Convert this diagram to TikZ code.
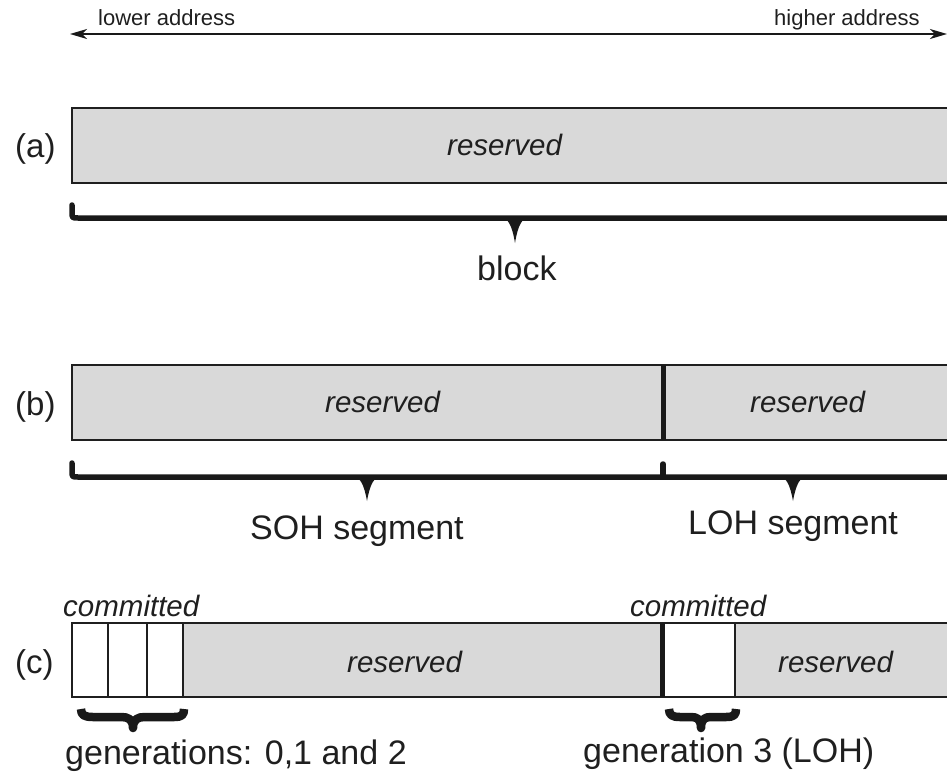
\documentclass[tikz,border=0pt]{standalone}
\usepackage{fontspec}
\setmainfont{Liberation Sans}
\usetikzlibrary{arrows.meta}
\begin{document}
\begin{tikzpicture}[x=1pt,y=-1pt,
  seg/.style={draw=black!88,line width=2.2pt},
  reservedfill/.style={fill=black!15},
  divider/.style={draw=black!90,line width=5pt},
  lbl/.style={font=\fontsize{34}{40}\selectfont,text=black!88,inner sep=0,anchor=base west},
  tag/.style={font=\fontsize{33}{40}\selectfont,text=black!88,inner sep=0,anchor=base west},
  it/.style={font=\fontsize{29.5}{34}\selectfont\itshape,text=black!88,inner sep=0,anchor=base west},
  addr/.style={font=\fontsize{22}{26}\selectfont,text=black!88,inner sep=0,anchor=base west},
  bigbrace/.style={draw=black!90,line width=5.5pt,line cap=round,line join=round},
  bracetip/.style={fill=black!90},
  smallbrace/.style={draw=black!90,line width=8.5pt,line join=round},
]
\useasboundingbox (0,0) rectangle (947,771);
\clip (0,0) rectangle (947,771);

% address direction
\coordinate (lo) at (70,34);
\coordinate (hi) at (947,34);
\draw[line width=1.6pt,draw=black!90,
  {Stealth[length=17pt,width=10pt,inset=5pt]}-{Stealth[length=17pt,width=10pt,inset=5pt]}] (lo) -- (hi);
\node[addr] (lowtxt) at (98,25) {lower address};
\node[addr] (hightxt) at (774,25) {higher address};

% (a) one reserved block
\draw[seg,reservedfill] (72,108) rectangle (960,183);
\node[tag] (la) at (15,157) {(a)};
\node[it] (resa) at (447,155) {reserved};
\draw[bigbrace] (72,205) -- (72,212) .. controls (72,218) .. (78,218) -- (965,218);
\fill[bracetip] (500,216) .. controls (508,218) and (512,225) .. (515,243)
  .. controls (518,225) and (522,218) .. (530,216) -- cycle;
\node[lbl] (block) at (477,280) {block};

% (b) SOH and LOH segments
\draw[seg,reservedfill] (72,365) rectangle (960,440);
\draw[divider] (663,365) -- (663,440);
\node[tag] (lb) at (15,415) {(b)};
\node[it] (resb1) at (325,412) {reserved};
\node[it] (resb2) at (750,412) {reserved};
\draw[bigbrace] (72,463) -- (72,471) .. controls (72,477) .. (78,477) -- (965,477);
\draw[bigbrace] (663,464) -- (663,477);
\fill[bracetip] (352,475) .. controls (360,477) and (364,484) .. (367,501)
  .. controls (370,484) and (374,477) .. (382,475) -- cycle;
\fill[bracetip] (778,475) .. controls (786,477) and (790,484) .. (793,501)
  .. controls (796,484) and (800,477) .. (808,475) -- cycle;
\node[lbl] (soh) at (250,539) {SOH segment};
\node[lbl] (loh) at (688,534) {LOH segment};

% (c) committed generations
\fill[black!15] (72,623) rectangle (960,697);
\fill[white] (72,623) rectangle (183,697);
\fill[white] (662,623) rectangle (735,697);
\draw[seg] (72,623) rectangle (960,697);
\draw[seg] (108,623) -- (108,697) (147,623) -- (147,697)
  (183,623) -- (183,697) (735,623) -- (735,697);
\draw[divider] (662,623) -- (662,697);
\node[tag] (lc) at (15,673) {(c)};
\node[it] (com1) at (63,616) {committed};
\node[it] (com2) at (630,616) {committed};
\node[it] (resc1) at (347,672) {reserved};
\node[it] (resc2) at (778,672) {reserved};
% curly braces under the committed parts
\draw[smallbrace] (81,709) .. controls (81,715) and (84,717) .. (93,717) -- (121,717)
  .. controls (128,717) and (133,719) .. (133,728)
  .. controls (133,719) and (138,717) .. (145,717) -- (174,717)
  .. controls (182,717) and (184,715) .. (184,709);
\draw[smallbrace] (669,709) .. controls (669,715) and (672,717) .. (680,717) -- (691,717)
  .. controls (697,717) and (701,719) .. (701,728)
  .. controls (701,719) and (705,717) .. (711,717) -- (726,717)
  .. controls (734,717) and (736,715) .. (736,709);
\node[lbl] (gen012) at (65,764) {generations: 0,1 and 2};
\node[lbl] (gen3) at (583,762) {generation 3 (LOH)};
\end{tikzpicture}
\end{document}
